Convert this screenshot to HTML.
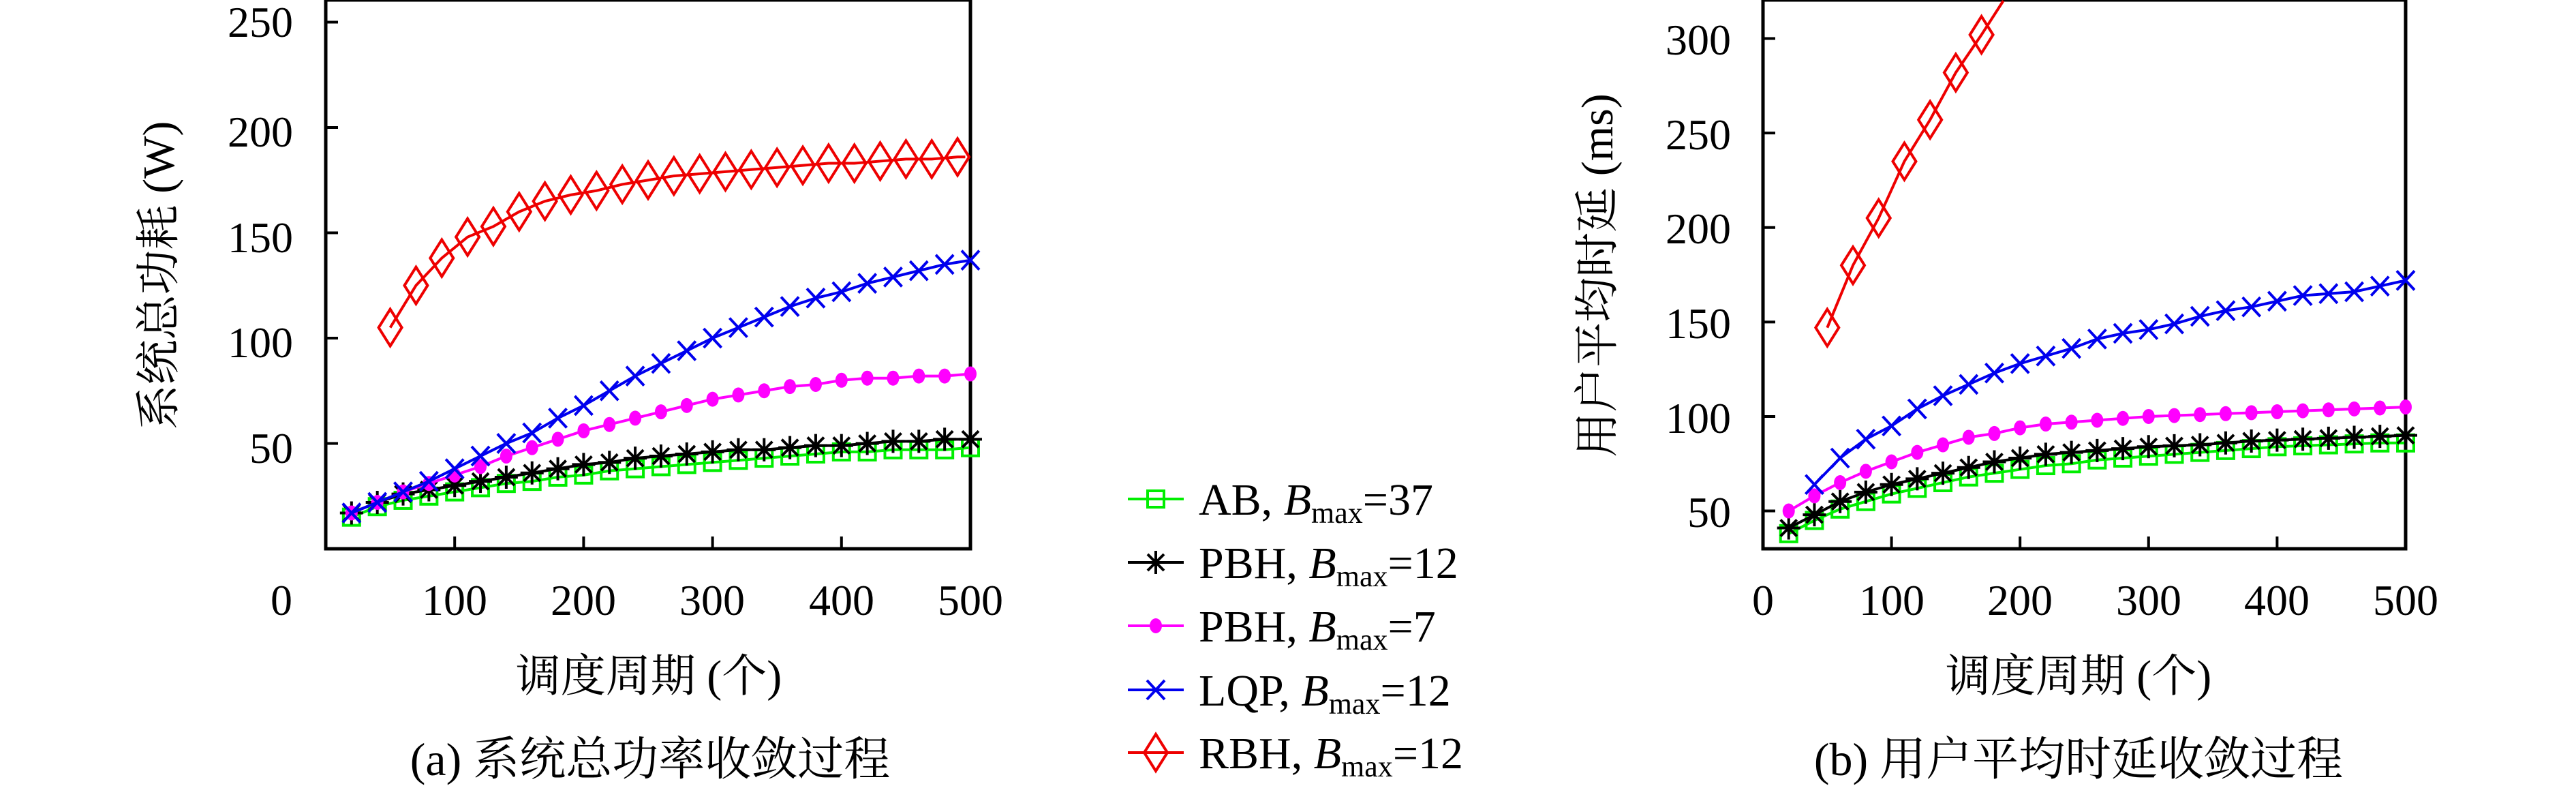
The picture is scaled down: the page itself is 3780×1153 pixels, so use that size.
<!DOCTYPE html>
<html><head><meta charset="utf-8"><style>
html,body{margin:0;padding:0;background:#fff;}
svg{display:block;}
text{font-family:"Liberation Serif","Noto Serif CJK SC",serif;fill:#000;}
</style></head><body>
<svg id="s" width="3780" height="1153" viewBox="0 0 3780 1153" xmlns="http://www.w3.org/2000/svg">
<g id="plots"></g>
<g font-size="64" text-anchor="end">
<text x="430" y="54">250</text><text x="430" y="215">200</text><text x="430" y="370">150</text><text x="430" y="524">100</text><text x="430" y="679">50</text>
</g>
<g font-size="64" text-anchor="middle">
<text x="413" y="902">0</text><text x="667" y="902">100</text><text x="856" y="902">200</text><text x="1045" y="902">300</text><text x="1235" y="902">400</text><text x="1424" y="902">500</text>
</g>
<text font-size="66" text-anchor="middle" transform="translate(255,404) rotate(-90)">系统总功耗 (W)</text>
<text font-size="66" x="952" y="1014" text-anchor="middle">调度周期 (个)</text>
<text font-size="68" x="954" y="1137" text-anchor="middle">(a) 系统总功率收敛过程</text>
<g font-size="64" text-anchor="end">
<text x="2540" y="80">300</text><text x="2540" y="219">250</text><text x="2540" y="357">200</text><text x="2540" y="496">150</text><text x="2540" y="635">100</text><text x="2540" y="773">50</text>
</g>
<g font-size="64" text-anchor="middle">
<text x="2587" y="902">0</text><text x="2776" y="902">100</text><text x="2964" y="902">200</text><text x="3153" y="902">300</text><text x="3341" y="902">400</text><text x="3530" y="902">500</text>
</g>
<text font-size="66" text-anchor="middle" transform="translate(2366,404) rotate(-90)">用户平均时延 (ms)</text>
<text font-size="66" x="3050" y="1014" text-anchor="middle">调度周期 (个)</text>
<text font-size="68" x="3050" y="1137" text-anchor="middle">(b) 用户平均时延收敛过程</text>
<g font-size="66">
<text x="1759" y="755">AB, <tspan font-style="italic">B</tspan><tspan font-size="44" dy="12">max</tspan><tspan dy="-12">=37</tspan></text>
<text x="1759" y="848">PBH, <tspan font-style="italic">B</tspan><tspan font-size="44" dy="12">max</tspan><tspan dy="-12">=12</tspan></text>
<text x="1759" y="941">PBH, <tspan font-style="italic">B</tspan><tspan font-size="44" dy="12">max</tspan><tspan dy="-12">=7</tspan></text>
<text x="1759" y="1035">LQP, <tspan font-style="italic">B</tspan><tspan font-size="44" dy="12">max</tspan><tspan dy="-12">=12</tspan></text>
<text x="1759" y="1127">RBH, <tspan font-style="italic">B</tspan><tspan font-size="44" dy="12">max</tspan><tspan dy="-12">=12</tspan></text>
</g>
</svg>
<script>
var NS="http://www.w3.org/2000/svg",G=document.getElementById("plots");
function el(t,a){var e=document.createElementNS(NS,t);for(var k in a)e.setAttribute(k,a[k]);G.appendChild(e);return e;}
function marker(type,x,y,c){
 if(type=="sq")el("rect",{x:x-12,y:y-12,width:24,height:24,fill:"none",stroke:c,"stroke-width":4});
 else if(type=="star"){var d="";for(var i=0;i<4;i++){var a=i*Math.PI/4;d+="M"+(x-17*Math.sin(a))+","+(y-17*Math.cos(a))+"L"+(x+17*Math.sin(a))+","+(y+17*Math.cos(a));}el("path",{d:d,stroke:c,"stroke-width":4});}
 else if(type=="dot")el("ellipse",{cx:x,cy:y,rx:9,ry:11,fill:c});
 else if(type=="x")el("path",{d:"M"+(x-13)+","+(y-14)+"L"+(x+13)+","+(y+14)+"M"+(x+13)+","+(y-14)+"L"+(x-13)+","+(y+14),stroke:c,"stroke-width":4});
 else if(type=="dia")el("path",{d:"M"+x+","+(y-27)+"L"+(x+17)+","+y+"L"+x+","+(y+27)+"L"+(x-17)+","+y+"Z",fill:"none",stroke:c,"stroke-width":4});
}
function range(a,b){var r=[];for(var i=a;i<=b;i+=20)r.push(i);return r;}
function plot(P){
 el("rect",{x:P.x0,y:0,width:P.x1-P.x0,height:P.y0,fill:"none",stroke:"#000","stroke-width":5});
 P.yt.forEach(function(v){var y=P.Y(v);el("line",{x1:P.x0,y1:y,x2:P.x0+18,y2:y,stroke:"#000","stroke-width":4});});
 [100,200,300,400].forEach(function(v){var x=P.X(v);el("line",{x1:x,y1:P.y0,x2:x,y2:P.y0-18,stroke:"#000","stroke-width":4});});
 P.series.forEach(function(s){
  var pts=s.xs.map(function(x,i){return [P.X(x),P.Y(s.ys[i])];});
  var d="M"+pts.map(function(p){return p.join(",");}).join("L");
  if(s.ext)d+="L"+P.X(s.ext[0])+","+P.Y(s.ext[1]);
  el("path",{d:d,fill:"none",stroke:s.c,"stroke-width":4});
  pts.forEach(function(p){if(p[1]>=0)marker(s.m,p[0],p[1],s.c);});
 });
}
var GR="#00ee00",BK="#000",MG="#ff00ff",BL="#0000ee",RD="#ee0000";
plot({x0:478,x1:1424,y0:805,X:function(v){return 478+v*1.892;},Y:function(v){return 805-v*3.09;},yt:[50,100,150,200,250],
series:[
 {c:GR,m:"sq",xs:range(20,500),ys:[15,20,23,25,27,29,31,32,34,35,37,38,39,40,41,42,43,44,45,46,46,47,47,47,48]},
 {c:BK,m:"star",xs:range(20,500),ys:[17,22,26,28,30,32,34,36,38,40,41,43,44,45,46,47,47,48,49,49,50,51,51,52,52]},
 {c:MG,m:"dot",xs:range(20,500),ys:[17,22,27,31,35,39,44,48,52,56,59,62,65,68,71,73,75,77,78,80,81,81,82,82,83]},
 {c:BL,m:"x",xs:range(20,500),ys:[17,22,27,32,38,44,50,55,62,68,75,82,88,94,100,105,110,115,119,122,126,129,132,135,137]},
 {c:RD,m:"dia",xs:range(50,490),ys:[105,125,138,148,153,160,165,168,170,173,175,177,178,179,180,181,182,183,183,184,185,185,186],ext:[496,186]}
]});
plot({x0:2587,x1:3530,y0:805,X:function(v){return 2587+v*1.886;},Y:function(v){return 805-(v-30)*2.772;},yt:[50,100,150,200,250,300],
series:[
 {c:GR,m:"sq",xs:range(20,500),ys:[38,45,51,55,59,62,65,68,70,72,74,75,77,78,79,80,81,82,83,84,84.5,85,85.5,86,86]},
 {c:BK,m:"star",xs:range(20,500),ys:[41,48,55,60,64,67,70,73,76,78,80,81,82,83,84,84.5,85,86,87,87.5,88,88.5,89,89.5,90]},
 {c:MG,m:"dot",xs:range(20,500),ys:[50,58,65,71,76,81,85,89,91,94,96,97,98,99,100,100.5,101,101.5,102,102.5,103,103.5,104,104.5,105]},
 {c:BL,m:"x",xs:range(40,500),ys:[64,78,88,95,104,111,117,123,128,132,136,141,144,146,149,153,156,158,161,164,165,166,169,172]},
 {c:RD,m:"dia",xs:[50,70,90,110,130,150,170],ys:[147,180,205,235,257,282,302],ext:[187,320]}
]});
var L=[["sq",GR,732],["star",BK,825],["dot",MG,918],["x",BL,1012],["dia",RD,1104]];
L.forEach(function(l){el("line",{x1:1655,y1:l[2],x2:1737,y2:l[2],stroke:l[1],"stroke-width":4});marker(l[0],1696,l[2],l[1]);});
</script>
</body></html>
